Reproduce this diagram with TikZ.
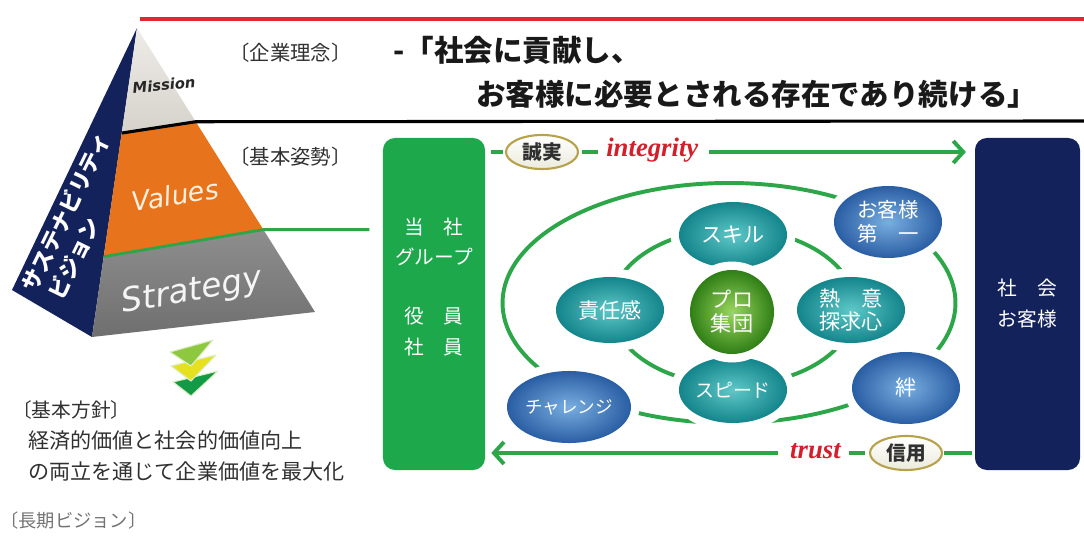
\documentclass[tikz,border=0pt]{standalone}
\usepackage{fontspec}
\setmainfont{Noto Sans CJK JP}
\newfontfamily\tagfont{Liberation Serif}
\newfontfamily\pyrfont{DejaVu Sans}
\usepackage{xcolor}
\usepackage{tikz}
\usetikzlibrary{calc,positioning,arrows.meta,shapes.geometric,shadows}

\definecolor{navy}{HTML}{14225C}
\definecolor{boxgreen}{HTML}{1CA84B}
\definecolor{ringgreen}{HTML}{2DA64A}
\definecolor{orng}{HTML}{E7741D}
\definecolor{stone}{HTML}{D6D2CB}
\definecolor{stonelt}{HTML}{EEECE8}
\definecolor{slate}{HTML}{6F6F6F}
\definecolor{slatelt}{HTML}{8E8E8E}
\definecolor{tealdk}{HTML}{13858B}
\definecolor{teallt}{HTML}{5FC8C8}
\definecolor{bluedk}{HTML}{2A5EA4}
\definecolor{bluelt}{HTML}{78AEE0}
\definecolor{prodk}{HTML}{2F7E16}
\definecolor{prolt}{HTML}{9AD65E}
\definecolor{redtxt}{HTML}{D31F2C}
\definecolor{redline}{HTML}{E2262C}
\definecolor{ovalrim}{HTML}{B7A24C}
\definecolor{ovalfill}{HTML}{ECEBDD}
\definecolor{txtgray}{HTML}{303030}
\definecolor{chevlt}{HTML}{8DC83F}
\definecolor{chevyel}{HTML}{E6E11E}
\definecolor{chevdk}{HTML}{139A46}

\tikzset{
	lbl/.style={inner sep=0pt,text=txtgray},
	bubble/.style={ellipse,inner sep=0pt,align=center,text=white,font=\fontsize{15}{17}\selectfont,
		preaction={draw=white,line width=12pt}},
	teal bubble/.style={bubble,inner color=teallt,outer color=tealdk,minimum width=2.7cm,minimum height=1.65cm},
	blue bubble/.style={bubble,inner color=bluelt,outer color=bluedk,minimum width=2.7cm,minimum height=1.8cm},
	pro ball/.style={bubble,circle,inner color=prolt,outer color=prodk,minimum size=2.1cm},
	oval/.style={ellipse,draw=ovalrim,line width=1.5pt,top color=white,bottom color=ovalfill,
		minimum width=1.8cm,minimum height=0.85cm,inner sep=0pt,text=txtgray,font=\fontsize{14}{16}\selectfont\bfseries},
	tag/.style={inner sep=0pt,text=redtxt,font=\tagfont\fontsize{19}{21}\selectfont\bfseries\itshape},
	flow/.style={ringgreen,line width=2.8pt},
	ring/.style={ringgreen,line width=2.8pt},
	bigbox/.style={rounded corners=0.3cm,minimum width=2.55cm,minimum height=8.3cm,inner sep=0pt,
		text=white,align=center,font=\fontsize{14}{22}\selectfont},
	chev/.style={draw=white!70!chevlt,line width=0.8pt,line join=round}
}

\begin{document}
\begin{tikzpicture}[x=0.025cm,y=-0.025cm]
	\useasboundingbox (0,0) rectangle (1084,537);

	\coordinate (apex) at (137,28);
	\coordinate (lft) at (12,290);
	\coordinate (bl) at (92,337);
	\coordinate (br) at (315,312);
	\coordinate (m1) at ($(apex)!0.34!(bl)$);
	\coordinate (m2) at ($(apex)!0.33!(br)$);
	\coordinate (v1) at ($(apex)!0.74!(bl)$);
	\coordinate (v2) at ($(apex)!0.71!(br)$);

	\fill[navy] (apex) -- (lft) -- (bl) -- cycle;
	\shade[top color=stonelt,bottom color=stone] (apex) -- (m1) -- (m2) -- cycle;
	\fill[orng] (m1) -- (m2) -- (v2) -- (v1) -- cycle;
	\shade[top color=slatelt,bottom color=slate] (v1) -- (v2) -- (br) -- (bl) -- cycle;

	\draw[redline,line width=2.2pt] (140,19) -- (1084,19);
	\draw[black,line width=2.2pt] (m1) -- (m2) -- (1084,121);
	\draw[ringgreen,line width=2pt] (v1) -- (v2) -- ++(106,0);

	\node[rotate=64,anchor=west,inner sep=0pt,text=white,font=\fontsize{15.5}{18}\selectfont\bfseries] (sus1) at (28,290) {サステナビリティ};
	\node[rotate=64,anchor=west,inner sep=0pt,text=white,font=\fontsize{15.5}{18}\selectfont\bfseries] (sus2) at (55,298) {ビジョン};

	\node[rotate=6,inner sep=0pt,text=black!85,font=\pyrfont\fontsize{10.5}{12}\selectfont\bfseries\itshape] (mission) at (164,85) {Mission};
	\node[rotate=9,inner sep=0pt,text=white!88!orange,font=\pyrfont\fontsize{19}{21}\selectfont\itshape] (values) at (175,195) {Values};
	\node[rotate=10,inner sep=0pt,text=white!92!gray,font=\pyrfont\fontsize{23.5}{25}\selectfont\itshape] (strategy) at (192,292) {Strategy};

	\fill[chevdk,chev] (173,382) -- (218,371) -- (191,396) -- cycle;
	\fill[chevyel,chev] (171,366) -- (216,355) -- (191,381) -- cycle;
	\fill[chevlt,chev] (170,352) -- (213,340) -- (191,366) -- cycle;

	\node[lbl,anchor=west,font=\fontsize{14.5}{16}\selectfont] (creed) at (229,53) {〔企業理念〕};
	\node[lbl,anchor=west,font=\fontsize{14.5}{16}\selectfont] (stance) at (229,157) {〔基本姿勢〕};
	\node[lbl,anchor=west,text=black!90,font=\fontsize{21}{24}\selectfont\bfseries] (quote1) at (393,50) {-「社会に貢献し、};
	\node[lbl,anchor=west,text=black!90,font=\fontsize{21}{24}\selectfont\bfseries] (quote2) at (476,94) {お客様に必要とされる存在であり続ける」};

	\node[lbl,anchor=west,font=\fontsize{14}{16}\selectfont] (policy) at (12,410) {〔基本方針〕};
	\node[lbl,anchor=west,font=\fontsize{15}{17}\selectfont] (policy1) at (28,441) {経済的価値と社会的価値向上};
	\node[lbl,anchor=west,font=\fontsize{15}{17}\selectfont] (policy2) at (28,471) {の両立を通じて企業価値を最大化};
	\node[lbl,anchor=west,text=black!55,font=\fontsize{13}{15}\selectfont] (vision) at (0,521) {〔長期ビジョン〕};

	\node[bigbox,fill=boxgreen] (gbox) at (434,304) {};
	\node[inner sep=0pt,text=white,align=center,font=\fontsize{14}{22}\selectfont] (gtext) at (434,287) {当　社\\グループ\\[0.7cm]役　員\\社　員};
	\node[bigbox,fill=navy,minimum width=2.625cm] (nbox) at (1027.5,304) {社　会\\お客様};

	\draw[ring] (729,303) ellipse [x radius=5.66cm,y radius=3cm];
	\draw[ring] (733,307) ellipse [x radius=3.05cm,y radius=1.95cm];

	\node[teal bubble] (skill) at (733,235) {スキル};
	\node[teal bubble] (duty) at (610,310) {責任感};
	\node[teal bubble] (zeal) at (851,310) {熱　意\\探求心};
	\node[teal bubble,font=\fontsize{13.5}{16}\selectfont] (speed) at (733,390) {スピード};
	\node[pro ball] (pro) at (732,312) {プロ\\集団};
	\node[blue bubble,font=\fontsize{14.5}{17}\selectfont] (first) at (888,222) {お客様\\第　一};
	\node[blue bubble] (bond) at (906,388) {絆};
	\node[blue bubble,font=\fontsize{12.5}{15}\selectfont] (challenge) at (569,407) {チャレンジ};

	\node[oval] (honest) at (542,152) {誠実};
	\node[tag,anchor=west] (integ) at (606,150) {integrity};
	\draw[flow,shorten <=0.15cm,shorten >=0.05cm] (gbox.east |- honest) -- (honest.west);
	\draw[flow,shorten <=0.08cm,shorten >=0.2cm] (honest.east) -- (integ.west |- honest);
	\draw[flow,-{Straight Barb[length=0.25cm,width=0.55cm]},shorten <=0.25cm,shorten >=0.22cm] (integ.east |- honest) -- (nbox.west |- honest);

	\node[oval] (credit) at (906,453) {信用};
	\node[tag,anchor=east] (trusttag) at (841,451) {trust};
	\draw[flow,shorten <=0.08cm,shorten >=0.02cm] (nbox.west |- credit) -- (credit.east);
	\draw[flow,shorten <=0.1cm,shorten >=0.2cm] (credit.west) -- (trusttag.east |- credit);
	\draw[flow,-{Straight Barb[length=0.25cm,width=0.55cm]},shorten <=0.3cm,shorten >=0.15cm] (trusttag.west |- credit) -- (gbox.east |- credit);
\end{tikzpicture}
\end{document}
